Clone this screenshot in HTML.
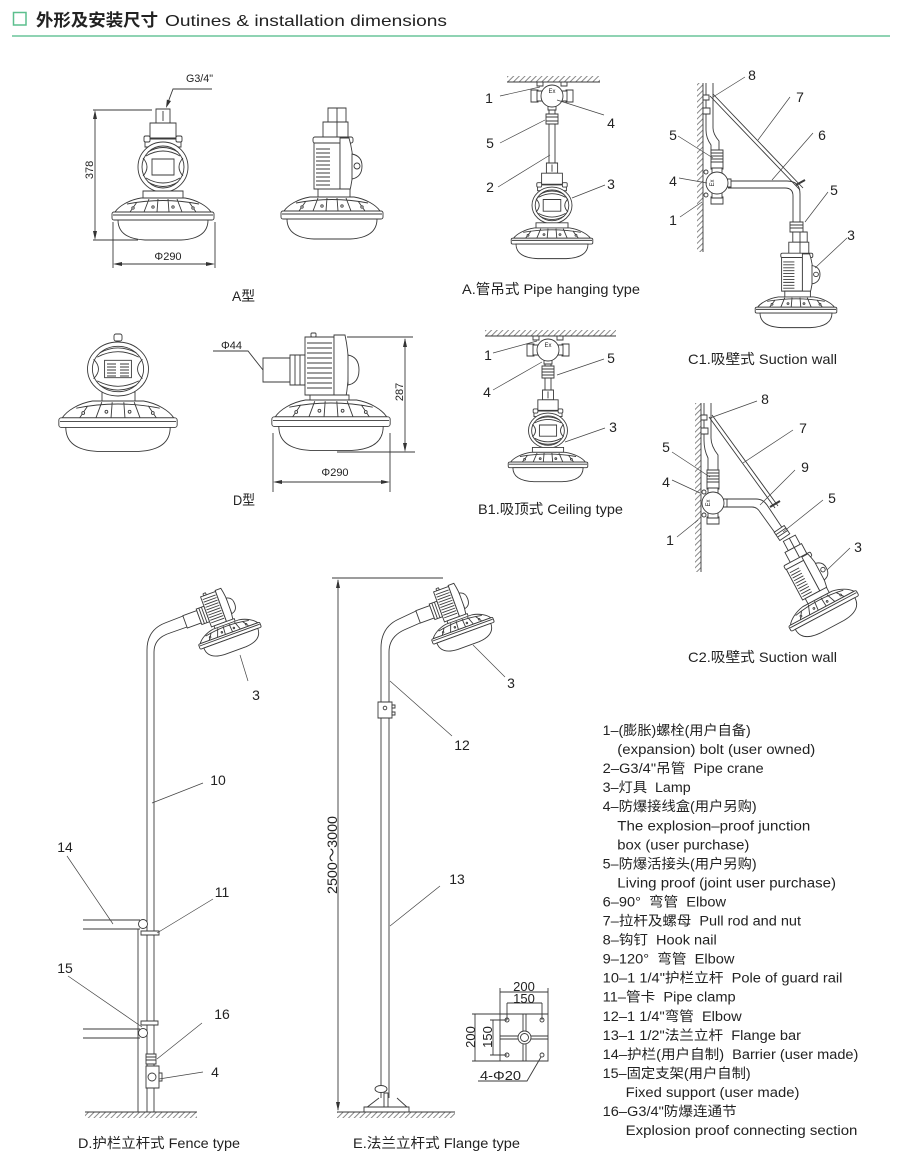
<!DOCTYPE html>
<html><head><meta charset="utf-8">
<style>
html,body{margin:0;padding:0;background:#fff;}
svg{display:block;}
svg *{vector-effect:non-scaling-stroke;}
text{font-family:"Liberation Sans","Noto Sans CJK SC",sans-serif;fill:#222;stroke:none;white-space:pre;}
.n{font-size:14px;text-anchor:middle;}
.cap{font-size:14px;}
.lg{font-size:13.5px;}
</style></head><body>
<svg width="900" height="1160" viewBox="0 0 900 1160" xmlns="http://www.w3.org/2000/svg">
<rect width="900" height="1160" fill="#fff"/>
<defs>
<pattern id="h" width="4" height="4" patternUnits="userSpaceOnUse" patternTransform="rotate(45)">
<line x1="1" y1="0" x2="1" y2="4" stroke="#555" stroke-width="0.7"/>
</pattern>
<g id="baseA">
<path d="M-22,0 C-34,2 -44,8 -48,14 L48,14 C44,8 34,2 22,0 Z"/>
<path d="M-36,6 Q0,-1 36,6 M-14,1 L-19,14 M-5,1 L-6,14 M5,1 L6,14 M14,1 L19,14 M-26,4 L-33,14 M26,4 L33,14" fill="none"/>
<circle cx="-30" cy="10" r="1.2"/><circle cx="30" cy="10" r="1.2"/><circle cx="-10" cy="9" r="1.2"/><circle cx="10" cy="9" r="1.2"/>
<rect x="-51" y="14" width="102" height="8" rx="2"/>
<line x1="-50" y1="17" x2="50" y2="17"/>
<path d="M-45,22 C-45,33 -38,41 -18,42 L18,42 C38,41 45,33 45,22 Z"/>
</g>
<g id="headF">
<circle r="25"/>
<circle r="21" fill="none"/>
<path d="M-17,-11 Q0,-21 17,-11 M-15,-15 Q0,-24 15,-15 M-17,11 Q0,21 17,11 M-15,15 Q0,24 15,15" fill="none"/>
<path d="M-20,-9 Q-12,0 -20,9 M20,-9 Q12,0 20,9" fill="none"/>
<rect x="-11" y="-8" width="22" height="16"/>
</g>
<g id="lampA">
<rect x="-7" y="0" width="14" height="14"/>
<line x1="0" y1="2" x2="0" y2="12"/>
<rect x="-13" y="14" width="26" height="15"/>
<rect x="-18" y="30" width="36" height="8"/>
<rect x="-19" y="27" width="6" height="6" rx="1.5"/>
<rect x="13" y="27" width="6" height="6" rx="1.5"/>
<use href="#headF" transform="translate(0,58)"/>
<rect x="-20" y="82" width="40" height="7"/>
<use href="#baseA" transform="translate(0,89)"/>
</g>
<g id="lampS">
<rect x="-4" y="0" width="18" height="14"/>
<rect x="-9" y="14" width="25" height="16"/>
<line x1="5" y1="0" x2="5" y2="30"/>
<rect x="-19" y="29" width="40" height="6" rx="2"/>
<rect x="-18" y="35" width="26" height="46"/>
<path d="M-16,41 H-2 M-16,45 H-2 M-16,49 H-2 M-16,53 H-2 M-16,57 H-2 M-16,61 H-2 M-16,65 H-2 M-16,69 H-2 M-16,73 H-2 M-16,77 H-2" fill="none"/>
<path d="M8,30 L17,30 Q25,57 17,86 L8,86 Z"/>
<path d="M20,46 Q30,48 30,58 Q30,69 20,71 Z"/>
<circle cx="25" cy="58" r="3" fill="none"/>
<rect x="-14" y="81" width="32" height="8"/>
<use href="#baseA" transform="translate(0,89)"/>
</g>
<g id="lampD">
<rect x="-68" y="21" width="27" height="24"/>
<rect x="-41" y="18" width="15" height="30"/>
<path d="M-36,18 V48 M-31,18 V48" fill="none"/>
<rect x="-26" y="0" width="29" height="58"/>
<path d="M-24,6 H1 M-24,11 H1 M-24,16 H1 M-24,21 H1 M-24,26 H1 M-24,31 H1 M-24,36 H1 M-24,41 H1 M-24,46 H1 M-24,51 H1" fill="none"/>
<rect x="-20" y="-4" width="5" height="4" rx="1"/>
<path d="M3,-2 L14,-2 Q21,30 14,65 L3,65 Z"/>
<path d="M17,18 Q28,20 28,33 Q28,46 17,48 Z"/>
<rect x="-21" y="58" width="39" height="6"/>
<use href="#baseA" transform="translate(0,63) scale(1.16,1.2)"/>
</g>
<g id="jbox">
<rect x="-21" y="-6" width="7" height="12"/>
<rect x="-15" y="-5" width="5" height="10"/>
<rect x="14" y="-6" width="7" height="12"/>
<rect x="10" y="-5" width="5" height="10"/>
<rect x="-4" y="9" width="8" height="5"/>
<circle r="11"/>
<text x="0" y="-3" style="font-size:6px;text-anchor:middle">Ex</text>
</g>
</defs>

<!-- Title -->
<rect x="13.5" y="12.5" width="12.5" height="12.5" fill="none" stroke="#5cbf8e" stroke-width="1.5"/>
<text x="36" y="26" style="font-size:17px;font-weight:bold" textLength="122" lengthAdjust="spacingAndGlyphs">外形及安装尺寸</text>
<text x="165" y="26" style="font-size:16px" textLength="282" lengthAdjust="spacingAndGlyphs">Outines &amp; installation dimensions</text>
<line x1="12" y1="36" x2="890" y2="36" stroke="#8fd3b3" stroke-width="2"/>

<g fill="#fff" stroke="#3a3a3a" stroke-width="0.9">

<!-- A front -->
<use href="#lampA" transform="translate(163,109)"/>
<g fill="none">
<line x1="93" y1="110" x2="152" y2="110"/>
<line x1="93" y1="240" x2="138" y2="240"/>
<line x1="95" y1="112" x2="95" y2="238"/>
<line x1="113" y1="222" x2="113" y2="268"/>
<line x1="215" y1="222" x2="215" y2="268"/>
<line x1="115" y1="264" x2="213" y2="264"/>
<polyline points="212,89 173,89 167,105"/>
</g>
<path fill="#333" stroke="none" d="M95,110 L93,119 L97,119Z M95,240 L93,231 L97,231Z M113,264 L122,262 L122,266Z M215,264 L206,262 L206,266Z M166,108 L171,101 L166.9,99.6Z"/>

<!-- A side -->
<use href="#lampS" transform="translate(332,108)"/>

<!-- D front -->
<rect x="114" y="334" width="8" height="7" rx="2"/>
<rect x="102" y="392" width="33" height="9"/>
<use href="#headF" transform="translate(118,369) scale(1.22,1.08)"/>
<path fill="none" d="M107,364 H116 M107,367 H116 M107,370 H116 M107,373 H116 M107,376 H116 M120,364 H129 M120,367 H129 M120,370 H129 M120,373 H129 M120,376 H129"/>
<use href="#baseA" transform="translate(118,401) scale(1.16,1.2)"/>

<!-- D side -->
<use href="#lampD" transform="translate(331,337)"/>
<g fill="none">
<line x1="347" y1="337" x2="413" y2="337"/>
<line x1="337" y1="452" x2="415" y2="452"/>
<line x1="405" y1="339" x2="405" y2="450"/>
<line x1="273" y1="433" x2="273" y2="492"/>
<line x1="390" y1="433" x2="390" y2="492"/>
<line x1="275" y1="482" x2="388" y2="482"/>
<polyline points="213,351 248,351 263,370"/>
</g>
<path fill="#333" stroke="none" d="M405,338 L403,347 L407,347Z M405,452 L403,443 L407,443Z M273,482 L282,480 L282,484Z M390,482 L381,480 L381,484Z"/>

<!-- A pipe hanging -->
<rect x="507" y="76" width="93" height="6" fill="url(#h)" stroke="none"/>
<line x1="507" y1="82" x2="600" y2="82"/>
<rect x="537" y="82" width="6" height="4"/><rect x="561" y="82" width="6" height="4"/>
<line x1="549" y1="108" x2="549" y2="166"/><line x1="555" y1="108" x2="555" y2="166"/>
<use href="#jbox" transform="translate(552,96)"/>
<rect x="546" y="114" width="12" height="10"/>
<path fill="none" d="M546,117 H558 M546,121 H558"/>
<use href="#lampA" transform="translate(552,163) scale(0.8,0.73)"/>

<!-- B1 ceiling -->
<rect x="485" y="330" width="131" height="6" fill="url(#h)" stroke="none"/>
<line x1="485" y1="336" x2="616" y2="336"/>
<rect x="533" y="336" width="6" height="4"/><rect x="557" y="336" width="6" height="4"/>
<line x1="545" y1="362" x2="545" y2="393"/><line x1="551" y1="362" x2="551" y2="393"/>
<use href="#jbox" transform="translate(548,350)"/>
<rect x="542" y="366" width="12" height="12"/>
<path fill="none" d="M542,369 H554 M542,372 H554 M542,375 H554"/>
<use href="#lampA" transform="translate(548,390) scale(0.78,0.7)"/>

<!-- C1 suction wall -->
<rect x="697" y="83" width="6" height="169" fill="url(#h)" stroke="none"/>
<line x1="703" y1="83" x2="703" y2="252"/>
<path fill="none" d="M706,83 L706,130 Q706,138 711,145 L711,153"/>
<path fill="none" d="M713,83 L713,128 Q713,134 719,141 L719,153"/>
<rect x="703" y="95" width="6" height="5"/>
<rect x="703" y="108" width="7" height="6"/>
<rect x="711" y="150" width="12" height="12"/>
<path fill="none" d="M711,153 H723 M711,156 H723 M711,159 H723"/>
<path fill="none" d="M728,181 L787,181 Q800,181 800,194 L800,224"/>
<path fill="none" d="M728,188 L785,188 Q793,188 793,196 L793,224"/>
<circle cx="706" cy="172" r="2"/><circle cx="706" cy="195" r="2"/>
<use href="#jbox" transform="translate(717,183) rotate(-90)"/>
<path fill="none" d="M710,96 L800,190 M713,94 L803,188"/>
<path fill="none" stroke-width="2" d="M796,185 L805,180"/>
<rect x="790" y="222" width="13" height="10"/>
<path fill="none" d="M790,225 H803 M790,228 H803"/>
<use href="#lampS" transform="translate(796,232) scale(0.8,0.73)"/>

<!-- C2 suction wall -->
<rect x="695" y="403" width="6" height="169" fill="url(#h)" stroke="none"/>
<line x1="701" y1="403" x2="701" y2="572"/>
<path fill="none" d="M704,403 L704,440 Q704,450 708,458 L708,472"/>
<path fill="none" d="M711,403 L711,438 Q711,446 718,455 L718,472"/>
<rect x="701" y="415" width="6" height="5"/>
<rect x="701" y="428" width="7" height="6"/>
<rect x="707" y="470" width="12" height="12"/>
<path fill="none" d="M707,473 H719 M707,476 H719 M707,479 H719"/>
<path fill="none" d="M725,499 L756,499 Q763,499 767,505 L785,532"/>
<path fill="none" d="M725,507 L752,507 Q757,507 760,512 L778,537"/>
<circle cx="704" cy="492" r="2"/><circle cx="704" cy="515" r="2"/>
<use href="#jbox" transform="translate(713,503) rotate(-90)"/>
<path fill="none" d="M709,417 L775,508 M712,415 L778,506"/>
<path fill="none" stroke-width="2" d="M770,507 L780,501"/>
<g transform="translate(782,533) rotate(-34)"><rect x="-6" y="-5" width="12" height="10"/><path fill="none" d="M-6,-2 H6 M-6,1 H6"/></g>
<use href="#lampS" transform="translate(786,540) rotate(-28) scale(0.75)"/>

<!-- D fence type -->
<path fill="none" d="M147,1112 L147,650 Q147,630 165,623 L183,616"/>
<path fill="none" d="M154,1112 L154,652 Q154,638 170,633 L187,627"/>
<use href="#lampD" transform="translate(214,592) rotate(-20) scale(0.55)"/>
<path fill="none" d="M83,920 H140 M83,929 H140 M83,1029 H140 M83,1038 H140"/>
<line x1="138" y1="929" x2="138" y2="1112"/>
<circle cx="143" cy="924" r="4.5"/>
<circle cx="143" cy="1033" r="4.5"/>
<rect x="141" y="931" width="18" height="4"/>
<rect x="141" y="1021" width="17" height="4"/>
<rect x="146" y="1054" width="10" height="10"/>
<path fill="none" d="M146,1057 H156 M146,1060 H156"/>
<rect x="146" y="1066" width="13" height="22"/>
<circle cx="152" cy="1077" r="4"/>
<rect x="159" y="1073" width="3" height="8"/>
<rect x="85" y="1112" width="112" height="6" fill="url(#h)" stroke="none"/>
<line x1="85" y1="1112" x2="197" y2="1112"/>

<!-- E flange type -->
<path fill="none" d="M381,1098 L381,648 Q381,627 399,619 L416,611"/>
<path fill="none" d="M389,1098 L389,652 Q389,637 404,630 L420,623"/>
<use href="#lampD" transform="translate(447,587) rotate(-20) scale(0.55)"/>
<rect x="378" y="702" width="14" height="16"/>
<circle cx="385" cy="708" r="1.8"/>
<rect x="392" y="705" width="3" height="3"/><rect x="392" y="712" width="3" height="3"/>
<ellipse cx="381" cy="1089" rx="6" ry="3.5"/>
<path fill="none" d="M366,1108 L379,1098 M397,1098 L408,1108"/>
<rect x="384" y="1093" width="4" height="15"/>
<rect x="364" y="1107" width="45" height="5"/>
<rect x="337" y="1112" width="118" height="6" fill="url(#h)" stroke="none"/>
<line x1="337" y1="1112" x2="455" y2="1112"/>
<g fill="none">
<line x1="332" y1="578" x2="443" y2="578"/>
<line x1="338" y1="580" x2="338" y2="1110"/>
</g>
<path fill="#333" stroke="none" d="M338,579 L336,588 L340,588Z M338,1111 L336,1102 L340,1102Z"/>

<!-- flange plate -->
<rect x="500" y="1014" width="48" height="47"/>
<path fill="none" d="M523,1014 V1061 M526,1014 V1061 M500,1036 H548 M500,1039 H548"/>
<circle cx="524.5" cy="1037.5" r="6.5"/>
<circle cx="524.5" cy="1037.5" r="4"/>
<circle cx="507" cy="1020" r="2"/><circle cx="542" cy="1020" r="2"/>
<circle cx="507" cy="1055" r="2"/><circle cx="542" cy="1055" r="2"/>
<g fill="none">
<path d="M500,988 V1014 M548,988 V1014 M500,992 H548"/>
<path d="M507,1003 V1020 M542,1003 V1020 M507,1003 H542"/>
<path d="M472,1014 H500 M472,1061 H500 M475,1014 V1061"/>
<path d="M490,1020 H507 M490,1055 H507 M493,1020 V1055"/>
<polyline points="478,1081 527,1081 541,1057"/>
</g>

<!-- leaders -->
<g fill="none" stroke="#444" stroke-width="0.7">
<path d="M500,96 L540,87 M604,115 L557,100 M500,143 L545,120 M498,187 L550,155 M605,185 L572,198"/>
<path d="M493,353 L537,341 M604,359 L557,375 M493,390 L542,362 M605,428 L565,442"/>
<path d="M745,77 L713,97 M790,97 L758,140 M813,133 L772,180 M678,136 L713,158 M679,178 L707,183 M680,217 L702,202 M828,192 L805,222 M847,238 L815,268"/>
<path d="M757,401 L710,418 M793,430 L743,463 M795,470 L760,505 M672,452 L710,477 M672,480 L700,493 M677,537 L698,520 M823,500 L783,532 M850,548 L827,570"/>
<path d="M248,681 L240,655 M203,783 L152,803 M67,856 L113,924 M213,899 L157,933 M68,976 L142,1027 M202,1023 L157,1059 M203,1072 L159,1079"/>
<path d="M505,677 L473,645 M452,736 L390,681 M440,886 L390,926"/>
</g>
</g>

<!-- dimension texts -->
<text x="186" y="82" style="font-size:11px" textLength="27" lengthAdjust="spacingAndGlyphs">G3/4"</text>
<text transform="translate(93,170) rotate(-90)" style="font-size:11px;text-anchor:middle">378</text>
<text x="168" y="260" style="font-size:11px;text-anchor:middle">Φ290</text>
<text x="221" y="349" style="font-size:11px">Φ44</text>
<text transform="translate(403,392) rotate(-90)" style="font-size:11px;text-anchor:middle">287</text>
<text x="335" y="476" style="font-size:11px;text-anchor:middle">Φ290</text>
<text transform="translate(337,855) rotate(-90)" style="font-size:14px;text-anchor:middle" textLength="78" lengthAdjust="spacingAndGlyphs">2500～3000</text>
<text x="524" y="991" style="font-size:13px;text-anchor:middle">200</text>
<text x="524" y="1003" style="font-size:13px;text-anchor:middle">150</text>
<text transform="translate(475,1037) rotate(-90)" style="font-size:13px;text-anchor:middle">200</text>
<text transform="translate(492,1037) rotate(-90)" style="font-size:13px;text-anchor:middle">150</text>
<text x="480" y="1080" style="font-size:13px" textLength="41" lengthAdjust="spacingAndGlyphs">4-Φ20</text>

<!-- numbers -->
<text class="n" x="489" y="103">1</text>
<text class="n" x="611" y="128">4</text>
<text class="n" x="490" y="148">5</text>
<text class="n" x="490" y="192">2</text>
<text class="n" x="611" y="189">3</text>

<text class="n" x="488" y="360">1</text>
<text class="n" x="611" y="363">5</text>
<text class="n" x="487" y="397">4</text>
<text class="n" x="613" y="432">3</text>

<text class="n" x="752" y="80">8</text>
<text class="n" x="800" y="102">7</text>
<text class="n" x="822" y="140">6</text>
<text class="n" x="673" y="140">5</text>
<text class="n" x="673" y="186">4</text>
<text class="n" x="673" y="225">1</text>
<text class="n" x="834" y="195">5</text>
<text class="n" x="851" y="240">3</text>

<text class="n" x="765" y="404">8</text>
<text class="n" x="803" y="433">7</text>
<text class="n" x="805" y="472">9</text>
<text class="n" x="666" y="452">5</text>
<text class="n" x="666" y="487">4</text>
<text class="n" x="670" y="545">1</text>
<text class="n" x="832" y="503">5</text>
<text class="n" x="858" y="552">3</text>

<text class="n" x="256" y="700">3</text>
<text class="n" x="218" y="785">10</text>
<text class="n" x="65" y="852">14</text>
<text class="n" x="222" y="897">11</text>
<text class="n" x="65" y="973">15</text>
<text class="n" x="222" y="1019">16</text>
<text class="n" x="215" y="1077">4</text>

<text class="n" x="511" y="688">3</text>
<text class="n" x="462" y="750">12</text>
<text class="n" x="457" y="884">13</text>

<!-- captions -->
<text x="232" y="301" style="font-size:14px" textLength="23" lengthAdjust="spacingAndGlyphs">A型</text>
<text x="233" y="505" style="font-size:14px" textLength="22" lengthAdjust="spacingAndGlyphs">D型</text>
<text class="cap" x="462" y="294" textLength="178" lengthAdjust="spacingAndGlyphs">A.管吊式 Pipe hanging type</text>
<text class="cap" x="478" y="514" textLength="145" lengthAdjust="spacingAndGlyphs">B1.吸顶式 Ceiling type</text>
<text class="cap" x="688" y="364" textLength="149" lengthAdjust="spacingAndGlyphs">C1.吸壁式 Suction wall</text>
<text class="cap" x="688" y="662" textLength="149" lengthAdjust="spacingAndGlyphs">C2.吸壁式 Suction wall</text>
<text class="cap" x="78" y="1148" textLength="162" lengthAdjust="spacingAndGlyphs">D.护栏立杆式 Fence type</text>
<text class="cap" x="353" y="1148" textLength="167" lengthAdjust="spacingAndGlyphs">E.法兰立杆式 Flange type</text>

<!-- legend -->
<text class="lg" x="602.7" y="735" textLength="148" lengthAdjust="spacingAndGlyphs">1–(膨胀)螺栓(用户自备)</text>
<text class="lg" x="617.3" y="754.1" textLength="198" lengthAdjust="spacingAndGlyphs">(expansion) bolt (user owned)</text>
<text class="lg" x="602.7" y="773.1" textLength="161" lengthAdjust="spacingAndGlyphs">2–G3/4"吊管  Pipe crane</text>
<text class="lg" x="602.7" y="792.2" textLength="88" lengthAdjust="spacingAndGlyphs">3–灯具  Lamp</text>
<text class="lg" x="602.7" y="811.2" textLength="154" lengthAdjust="spacingAndGlyphs">4–防爆接线盒(用户另购)</text>
<text class="lg" x="617.3" y="830.3" textLength="193" lengthAdjust="spacingAndGlyphs">The explosion–proof junction</text>
<text class="lg" x="617.3" y="849.3" textLength="132" lengthAdjust="spacingAndGlyphs">box (user purchase)</text>
<text class="lg" x="602.7" y="868.4" textLength="154" lengthAdjust="spacingAndGlyphs">5–防爆活接头(用户另购)</text>
<text class="lg" x="617.3" y="887.4" textLength="218.7" lengthAdjust="spacingAndGlyphs">Living proof (joint user purchase)</text>
<text class="lg" x="602.7" y="906.5" textLength="123.3" lengthAdjust="spacingAndGlyphs">6–90°  弯管  Elbow</text>
<text class="lg" x="602.7" y="925.5" textLength="198.3" lengthAdjust="spacingAndGlyphs">7–拉杆及螺母  Pull rod and nut</text>
<text class="lg" x="602.7" y="944.6" textLength="114" lengthAdjust="spacingAndGlyphs">8–钩钉  Hook nail</text>
<text class="lg" x="602.7" y="963.6" textLength="131.7" lengthAdjust="spacingAndGlyphs">9–120°  弯管  Elbow</text>
<text class="lg" x="602.7" y="982.7" textLength="239.7" lengthAdjust="spacingAndGlyphs">10–1 1/4"护栏立杆  Pole of guard rail</text>
<text class="lg" x="602.7" y="1001.7" textLength="133" lengthAdjust="spacingAndGlyphs">11–管卡  Pipe clamp</text>
<text class="lg" x="602.7" y="1020.8" textLength="139" lengthAdjust="spacingAndGlyphs">12–1 1/4"弯管  Elbow</text>
<text class="lg" x="602.7" y="1039.8" textLength="198.3" lengthAdjust="spacingAndGlyphs">13–1 1/2"法兰立杆  Flange bar</text>
<text class="lg" x="602.7" y="1058.9" textLength="255.7" lengthAdjust="spacingAndGlyphs">14–护栏(用户自制)  Barrier (user made)</text>
<text class="lg" x="602.7" y="1077.9" textLength="148" lengthAdjust="spacingAndGlyphs">15–固定支架(用户自制)</text>
<text class="lg" x="625.7" y="1097" textLength="173.7" lengthAdjust="spacingAndGlyphs">Fixed support (user made)</text>
<text class="lg" x="602.7" y="1116" textLength="134" lengthAdjust="spacingAndGlyphs">16–G3/4"防爆连通节</text>
<text class="lg" x="625.7" y="1135.1" textLength="231.7" lengthAdjust="spacingAndGlyphs">Explosion proof connecting section</text>
</svg>
</body></html>
